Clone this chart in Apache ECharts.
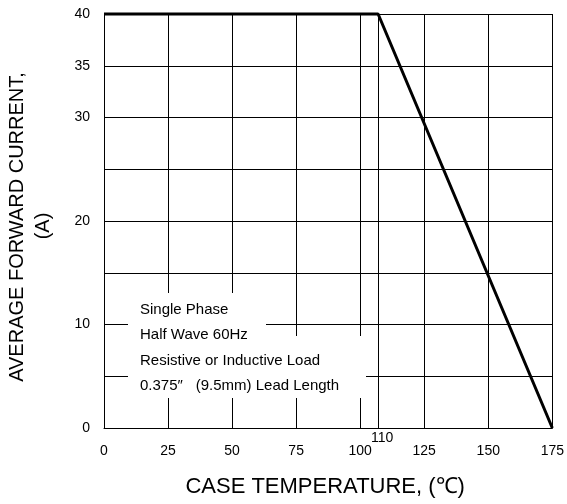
<!DOCTYPE html>
<html>
<head>
<meta charset="utf-8">
<script src="https://cdn.jsdelivr.net/npm/echarts@6/dist/echarts.min.js"></script>
<style>html,body{margin:0;padding:0;background:#fff;}#c{width:567px;height:504px;}</style>
</head>
<body>
<div id="c"></div>
<script>
// Data
var temps = [0, 107, 175];          // case temperature, °C (knee sits on the line labelled "110")
var currents = [40, 40, 0];         // average forward current, A
var xTicks = [0, 25, 50, 75, 100, 125, 150, 175];
var yLabelValues = [0, 10, 20, 30, 35, 40];
var kneeLineTemp = 107;
var kneeLabel = '110';
var noteLines = ['Single Phase', 'Half Wave 60Hz', 'Resistive or Inductive Load', '0.375{q|\u2033} (9.5mm) Lead Length'];
var xTitle = 'CASE TEMPERATURE, (\u2103)';
var yTitle1 = 'AVERAGE FORWARD CURRENT,';
var yTitle2 = '(A)';

var FONT = 'Liberation Sans, Arial, sans-serif';
var chart = echarts.init(document.getElementById('c'), null, {renderer: 'canvas'});

var seriesData = temps.map(function (t, i) { return [t, currents[i]]; });

var graphics = [
  {type: 'rect', z: 50, shape: {x: 128, y: 293, width: 138, height: 44}, style: {fill: '#fff'}},
  {type: 'rect', z: 50, shape: {x: 128, y: 336, width: 238, height: 62}, style: {fill: '#fff'}},
  {type: 'text', z: 60, rotation: Math.PI / 2, x: 17, y: 227,
   style: {text: yTitle1, font: '20px ' + FONT, fill: '#000', align: 'center', verticalAlign: 'middle'}},
  {type: 'text', z: 60, rotation: Math.PI / 2, x: 43, y: 226,
   style: {text: yTitle2, font: '20px ' + FONT, fill: '#000', align: 'center', verticalAlign: 'middle'}}
];
var noteY = [310, 335, 360.5, 386];
noteLines.forEach(function (s, i) {
  graphics.push({type: 'text', z: 60, x: 140, y: noteY[i],
    style: {text: s, font: '15px ' + FONT, fill: '#000', align: 'left', verticalAlign: 'middle',
      rich: {q: {width: 14, font: '15px ' + FONT, fill: '#000'}}}});
});

chart.setOption({
  animation: false,
  backgroundColor: '#fff',
  grid: {left: 104, right: 12, top: 14, bottom: 76, show: false},
  xAxis: {
    type: 'value', min: 0, max: 175, interval: 25,
    axisLine: {show: true, lineStyle: {color: '#000', width: 1}},
    axisTick: {show: false},
    axisLabel: {color: '#000', fontSize: 14, fontFamily: FONT, margin: 16,
      formatter: function (v) { return xTicks.indexOf(v) >= 0 ? String(v) : ''; }},
    splitLine: {show: true, lineStyle: {color: '#000', width: 1}},
    name: xTitle, nameLocation: 'middle', nameGap: 48,
    nameTextStyle: {color: '#000', fontSize: 22, fontFamily: FONT, padding: [0, 6, 0, 0]}
  },
  yAxis: {
    type: 'value', min: 0, max: 40, interval: 5,
    axisLine: {show: true, lineStyle: {color: '#000', width: 1}},
    axisTick: {show: false},
    axisLabel: {color: '#000', fontSize: 14, fontFamily: FONT, margin: 14,
      formatter: function (v) { return yLabelValues.indexOf(v) >= 0 ? String(v) : ''; }},
    splitLine: {show: true, lineStyle: {color: '#000', width: 1}}
  },
  graphic: graphics,
  series: [{
    type: 'line', data: seriesData, showSymbol: false, symbol: 'none', clip: false, z: 100,
    lineStyle: {color: '#000', width: 3},
    markLine: {
      silent: true, symbol: 'none', z: 5,
      lineStyle: {color: '#000', width: 1, type: 'solid'},
      label: {show: true, position: 'start', formatter: kneeLabel, color: '#000', fontSize: 14,
        fontFamily: FONT, distance: 3, offset: [4, 0]},
      data: [{xAxis: kneeLineTemp}]
    }
  }]
});
</script>
</body>
</html>
